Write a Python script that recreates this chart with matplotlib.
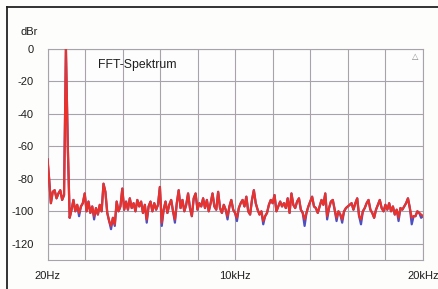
import numpy as np
import matplotlib.pyplot as plt
from matplotlib.lines import Line2D

# FFT-Spektrum, 100 Hz bins (first bin 20 Hz)
freqs = np.r_[20, np.arange(100, 20001, 100)]

red_db = [
    -68, -79, -95, -88, -87, -92, -89, -87, -93, -90,
    0, -60, -104, -99, -93, -100, -96, -101, -97, -95,
    -89, -100, -94, -101, -97, -103, -98, -102, -96, -100,
    -83, -88, -101, -106, -109, -104, -108, -94, -100, -97,
    -86, -99, -94, -99, -92, -98, -95, -100, -93, -97,
    -94, -101, -96, -105, -97, -94, -100, -95, -99, -96,
    -85, -107, -99, -94, -101, -96, -93, -100, -105, -95,
    -87, -98, -93, -100, -96, -89, -98, -103, -92, -89,
    -99, -95, -97, -92, -98, -93, -100, -95, -89, -97,
    -99, -88, -98, -101, -96, -99, -103, -97, -93, -99,
    -101, -104, -98, -95, -93, -97, -91, -100, -102, -93,
    -87, -95, -99, -102, -100, -106, -103, -101, -96, -93,
    -95, -90, -100, -97, -94, -97, -95, -98, -92, -101,
    -89, -96, -98, -94, -92, -99, -101, -105, -101, -97,
    -94, -91, -97, -98, -101, -97, -93, -96, -89, -103,
    -98, -94, -93, -99, -104, -100, -102, -105, -100, -98,
    -97, -96, -95, -99, -95, -92, -103, -105, -100, -98,
    -95, -93, -99, -101, -104, -99, -96, -93, -98, -100,
    -96, -99, -95, -100, -97, -102, -99, -104, -98, -99,
    -97, -95, -92, -98, -104, -103, -103, -100, -101, -102,
    -103,
]

blue_db = [
    -68, -79, -95, -88, -87, -92, -89, -87, -93, -90,
    0, -60, -104, -99, -93, -100, -96, -103, -97, -95,
    -89, -100, -94, -101, -97, -105, -98, -102, -96, -100,
    -83, -88, -101, -106, -111, -104, -109, -94, -100, -97,
    -86, -99, -94, -99, -92, -98, -95, -100, -93, -97,
    -94, -101, -96, -107, -97, -94, -100, -95, -99, -96,
    -85, -109, -99, -94, -101, -96, -93, -100, -107, -95,
    -87, -98, -93, -100, -96, -89, -98, -103, -92, -89,
    -99, -95, -97, -92, -98, -93, -100, -95, -89, -97,
    -99, -88, -98, -101, -96, -99, -105, -97, -93, -99,
    -101, -106, -98, -95, -93, -97, -91, -100, -102, -93,
    -87, -95, -99, -102, -100, -108, -103, -101, -96, -93,
    -95, -90, -100, -97, -94, -97, -95, -98, -92, -101,
    -89, -96, -98, -94, -92, -99, -101, -109, -101, -97,
    -94, -91, -97, -98, -101, -97, -93, -96, -89, -105,
    -98, -94, -93, -99, -106, -100, -102, -107, -100, -98,
    -97, -96, -95, -99, -95, -92, -103, -108, -100, -98,
    -95, -93, -99, -101, -104, -99, -96, -93, -98, -100,
    -96, -99, -95, -100, -97, -102, -99, -106, -98, -99,
    -97, -95, -92, -98, -108, -103, -103, -100, -101, -104,
    -103,
]

y_ticks = [0, -20, -40, -60, -80, -100, -120]
x_grid = [20 + k * 1998 for k in range(11)]
x_labels = ['20Hz', '', '', '', '', '10kHz', '', '', '', '', '20kHz']

W, H = 438, 289
fig = plt.figure(figsize=(W / 100, H / 100), dpi=100, facecolor='#fdfdfc')
plt.rcParams['font.family'] = ['Liberation Sans', 'DejaVu Sans']
ax = fig.add_axes([47.5 / W, 1 - 260 / H, (423 - 47.5) / W, (260 - 49) / H])
ax.set_facecolor('#fdfdfd')

grid_col = '#a8a2aa'
ax.plot(freqs, blue_db, color='#4b50c4', lw=1.6, zorder=3)
ax.plot(freqs, red_db, color='#e8322b', lw=1.6, zorder=4)

ax.set_xlim(20, 20000)
ax.set_ylim(-130, 0)
ax.set_xticks(x_grid)
ax.set_xticklabels(x_labels)
ax.set_yticks(y_ticks)
ax.set_yticklabels([str(v) for v in y_ticks])
ax.grid(True, color=grid_col, lw=0.8)
ax.tick_params(length=0, labelsize=8, colors='#1e1e1e')
ax.tick_params(axis='y', pad=10)
ax.tick_params(axis='x', pad=8)
for s in ax.spines.values():
    s.set_color(grid_col)
    s.set_linewidth(0.8)

ax.text(2700, -10, 'FFT-Spektrum', fontsize=8.8, color='#1e1e1e', va='center', zorder=5)
fig.text(38 / W, 1 - 32 / H, 'dBr', fontsize=8, color='#1e1e1e', ha='right', va='center')
ax.text(19600, -4.5, '△', fontsize=6, color='#888888', family=['DejaVu Sans'],
        ha='center', va='center')

# outer frame (left and top only visible)
fig.add_artist(Line2D([7 / W, 7 / W], [0, 1 - 7 / H], color='#222222', lw=1.3,
                      transform=fig.transFigure))
fig.add_artist(Line2D([7 / W, 1], [1 - 7 / H, 1 - 7 / H], color='#222222', lw=1.3,
                      transform=fig.transFigure))

fig.savefig('out.png', dpi=100, facecolor=fig.get_facecolor())
